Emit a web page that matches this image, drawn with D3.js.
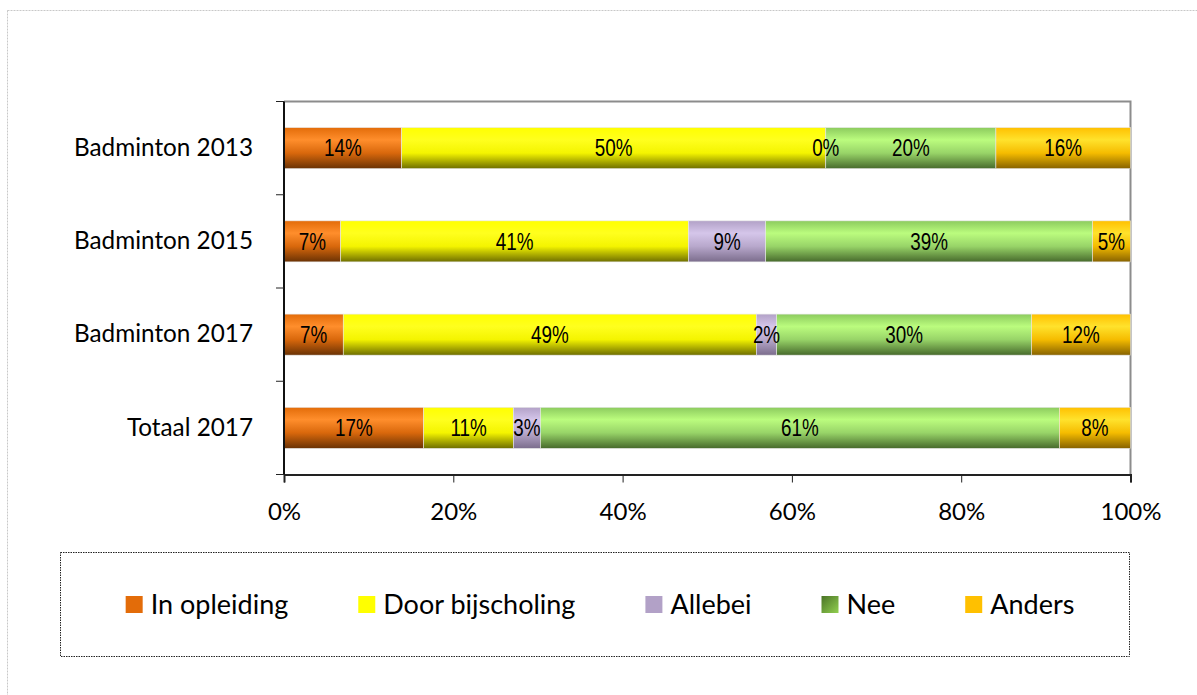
<!DOCTYPE html>
<html>
<head>
<meta charset="utf-8">
<script src="https://cdn.jsdelivr.net/npm/d3@7"></script>
<style>
  html, body { margin: 0; padding: 0; background: #fff; }
  svg { display: block; }
</style>
</head>
<body>
<svg id="chart" width="1197" height="695"></svg>
<script>
// ---- data ----
const categories = ["Badminton 2013", "Badminton 2015", "Badminton 2017", "Totaal 2017"];
const seriesNames = ["In opleiding", "Door bijscholing", "Allebei", "Nee", "Anders"];
const inOpleiding     = [13.9, 6.7, 7.0, 16.5];
const doorBijscholing = [50.1, 41.1, 48.8, 10.6];
const allebei         = [0.0, 9.1, 2.4, 3.2];
const nee             = [20.1, 38.6, 30.1, 61.3];
const anders          = [15.9, 4.5, 11.7, 8.4];
const xTicks = [0, 20, 40, 60, 80, 100];

// ---- styles ----
const colors = {
  "In opleiding":     {top: "#e36c09", mid: "#ff8e2c", base: "#d9680c", bot: "#6a3204", swatch: "#e36c09"},
  "Door bijscholing": {top: "#ffff00", mid: "#ffff1e", base: "#f4f400", bot: "#6e6e00", swatch: "#ffff00"},
  "Allebei":          {top: "#b2a1c7", mid: "#d5c6ea", base: "#b8a8cc", bot: "#7b6d8c", swatch: "#b2a1c7"},
  "Nee":              {top: "#8ccb5e", mid: "#bbfc7e", base: "#98d468", bot: "#476a2c", swatch: null},
  "Anders":           {top: "#ffc000", mid: "#ffe22c", base: "#f5bc00", bot: "#876200", swatch: "#ffc000"}
};
const labelFont = "Lato, 'Open Sans', sans-serif";

const svg = d3.select("#chart");
const defs = svg.append("defs");

seriesNames.forEach((s, i) => {
  const c = colors[s];
  const g = defs.append("linearGradient").attr("id", "grad" + i)
    .attr("x1", 0).attr("y1", 0).attr("x2", 0).attr("y2", 1);
  g.append("stop").attr("offset", "0%").attr("stop-color", c.top);
  g.append("stop").attr("offset", "30%").attr("stop-color", c.mid);
  g.append("stop").attr("offset", "62%").attr("stop-color", c.base);
  g.append("stop").attr("offset", "100%").attr("stop-color", c.bot);
});
const neeSw = defs.append("linearGradient").attr("id", "neeSwatch")
  .attr("x1", 0).attr("y1", 0).attr("x2", 1).attr("y2", 1);
neeSw.append("stop").attr("offset", "0%").attr("stop-color", "#4a7326");
neeSw.append("stop").attr("offset", "100%").attr("stop-color", "#92d050");

// outer chart border
svg.append("rect")
  .attr("x", 7.5).attr("y", 10.5).attr("width", 1260).attr("height", 760)
  .attr("fill", "none").attr("stroke", "#c8c8c8").attr("stroke-width", 1)
  .attr("stroke-dasharray", "2,1");

// ---- scales ----
const plot = {left: 284, right: 1130.5, top: 101.5, bottom: 474.5};
const x = d3.scaleLinear().domain([0, 100]).range([plot.left, plot.right]);
const y = d3.scaleBand().domain(categories).range([plot.top, plot.bottom])
  .paddingInner(0.56).paddingOuter(0.28);

// plot area frame (top/right gray)
svg.append("path")
  .attr("d", `M${plot.left},${plot.top}H${plot.right}V${plot.bottom}`)
  .attr("fill", "none").attr("stroke", "#8c8c8c").attr("stroke-width", 2);

// ---- stacked data ----
const seriesArrays = [inOpleiding, doorBijscholing, allebei, nee, anders];
const rows = categories.map((c, ci) => {
  const r = {cat: c};
  seriesNames.forEach((s, si) => r[s] = seriesArrays[si][ci]);
  return r;
});
const stack = d3.stack().keys(seriesNames)(rows);

const layers = svg.append("g").selectAll("g").data(stack).join("g")
  .attr("fill", (d, i) => `url(#grad${i})`);

layers.selectAll("rect").data(d => d.map(v => ({v, cat: v.data.cat})))
  .join("rect")
  .attr("x", d => x(d.v[0]))
  .attr("y", d => y(d.cat))
  .attr("width", d => Math.max(0, x(d.v[1]) - x(d.v[0])))
  .attr("height", y.bandwidth())
  .attr("stroke", "#e6e6e6").attr("stroke-width", 0.6);

// bar labels (narrow sans)
const labels = svg.append("g");
stack.forEach((layer, li) => {
  layer.forEach(v => {
    const cx = (x(v[0]) + x(v[1])) / 2;
    const cy = y(v.data.cat) + y.bandwidth() / 2;
    labels.append("text")
      .attr("transform", `translate(${cx},${cy}) scale(0.82,1)`)
      .attr("text-anchor", "middle")
      .attr("dy", "0.36em")
      .attr("font-family", "'Liberation Sans', Arial, sans-serif")
      .attr("font-size", 23)
      .attr("fill", "#000")
      .text(Math.round(v[1] - v[0]) + "%");
  });
});

// ---- axes ----
const xAxis = svg.append("g")
  .attr("transform", `translate(0,${plot.bottom})`)
  .call(d3.axisBottom(x).tickValues(xTicks).tickFormat(d => d + "%").tickSize(8).tickPadding(20));
xAxis.select(".domain").attr("stroke", "#222").attr("stroke-width", 2);
xAxis.selectAll(".tick line").attr("stroke", "#222").attr("stroke-width", 1);
xAxis.selectAll("text").attr("font-family", labelFont).attr("font-size", 24).attr("fill", "#000");

const yAxis = svg.append("g")
  .attr("transform", `translate(${plot.left},0)`)
  .call(d3.axisLeft(y).tickSize(0).tickPadding(31));
yAxis.select(".domain").attr("stroke", "#111").attr("stroke-width", 2)
  .attr("d", `M0,${plot.top}V${plot.bottom}`);
yAxis.selectAll("text").attr("font-family", labelFont).attr("font-size", 24.3).attr("fill", "#000");

// category boundary ticks
const boundaries = categories.map(c => y(c) - y.step() * y.paddingInner() / 2)
  .concat([plot.bottom]);
svg.append("g").selectAll("line").data(boundaries).join("line")
  .attr("x1", plot.left - 8).attr("x2", plot.left)
  .attr("y1", d => d).attr("y2", d => d)
  .attr("stroke", "#222").attr("stroke-width", 1);

// ---- legend ----
const legendBox = {x: 60.5, y: 552.5, w: 1069, h: 104};
svg.append("rect")
  .attr("x", legendBox.x).attr("y", legendBox.y)
  .attr("width", legendBox.w).attr("height", legendBox.h)
  .attr("fill", "none").attr("stroke", "#222").attr("stroke-width", 1)
  .attr("stroke-dasharray", "1.5,1");

const legend = svg.append("g");
const items = seriesNames.map((s, i) => {
  const g = legend.append("g");
  g.append("rect").attr("x", 0).attr("y", -8.5).attr("width", 17).attr("height", 17)
    .attr("fill", colors[s].swatch ? colors[s].swatch : "url(#neeSwatch)");
  const t = g.append("text").attr("x", 25).attr("dy", "0.36em")
    .attr("font-family", labelFont).attr("font-size", 27).attr("fill", "#000").text(s);
  return {g, w: 25 + t.node().getComputedTextLength()};
});
const gap = 70;
const total = d3.sum(items, d => d.w) + gap * (items.length - 1);
let cx = legendBox.x + legendBox.w / 2 - total / 2 + 5;
const ly = 604.5;
items.forEach(it => {
  it.g.attr("transform", `translate(${cx},${ly})`);
  cx += it.w + gap;
});
</script>
</body>
</html>
